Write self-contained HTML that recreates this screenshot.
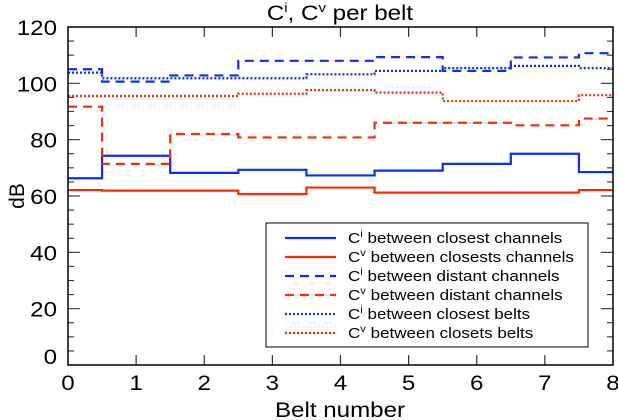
<!DOCTYPE html>
<html><head><meta charset="utf-8"><style>
body{margin:0;background:#fff;}
svg{display:block;font-family:"Liberation Sans",Arial,sans-serif;}
</style></head><body>
<svg id="chart" width="618" height="420" viewBox="0 0 618 420">
<rect x="0" y="0" width="618" height="420" fill="#fff"/>
<g id="ticks"></g>
<g id="series"></g>
<rect x="68" y="27" width="545" height="338" fill="none" stroke="#000" stroke-width="1.5"/>
<text transform="translate(340,20) scale(1.15,1)" font-size="21" text-anchor="middle">C<tspan font-size="13" dy="-8">i</tspan><tspan dy="8">, C</tspan><tspan font-size="13" dy="-8">v</tspan><tspan dy="8"> per belt</tspan></text>
<text transform="translate(340,417) scale(1.15,1)" font-size="21" text-anchor="middle">Belt number</text>
<text transform="translate(24,196) rotate(-90)" font-size="21" text-anchor="middle">dB</text>
<g id="legend">
<rect x="266" y="223" width="322" height="124" fill="#fff" stroke="#000" stroke-width="1"/>
</g>
</svg>
<script>
const xEdges = [0, 0.5, 1.5, 2.5, 3.5, 4.5, 5.5, 6.5, 7.5, 8];
const ciClosestChannels = [66.3, 74.3, 68.2, 69.3, 67.3, 69.0, 71.4, 75.0, 68.5];
const cvClosestChannels = [62.1, 61.9, 61.9, 60.7, 63.0, 61.2, 61.2, 61.2, 62.1];
const ciDistantChannels = [105.0, 100.6, 102.8, 108.0, 108.0, 109.3, 104.4, 109.2, 110.7];
const cvDistantChannels = [91.7, 71.4, 82.0, 80.8, 80.8, 86.0, 86.0, 85.1, 87.5];
const ciClosestBelts = [103.8, 101.8, 101.8, 101.8, 103.2, 104.4, 105.4, 106.2, 105.4];
const cvClosestBelts = [95.5, 95.5, 95.5, 96.3, 97.6, 96.7, 93.7, 93.7, 95.8];
const xTicks = [0, 1, 2, 3, 4, 5, 6, 7, 8];
const yTicks = [0, 20, 40, 60, 80, 100, 120];
const seriesNames = ["Ci between closest channels","Cv between closests channels","Ci between distant channels","Cv between distant channels","Ci between closest belts","Cv between closets belts"];

const NS = "http://www.w3.org/2000/svg";
const X0 = 68, X1 = 613, Y0 = 365, Y1 = 27;
function xs(v){ return X0 + v * (X1 - X0) / 8; }
function ys(v){ return Y0 - v * (Y0 - Y1) / 120; }
function mk(tag, attrs, parent){ const e = document.createElementNS(NS, tag); for (const k in attrs) e.setAttribute(k, attrs[k]); parent.appendChild(e); return e; }

const ticks = document.getElementById("ticks");
xTicks.forEach(t => {
  const x = xs(t);
  if (t > 0 && t < 8) {
    const a = mk("line", {x1:x, y1:Y0, x2:x, y2:Y0-10, stroke:"#333", "stroke-width":1.2}, ticks);
    
    
    const b = mk("line", {x1:x, y1:Y1, x2:x, y2:Y1+10, stroke:"#333", "stroke-width":1.2}, ticks);
    
    
  }
  const l = mk("text", {transform:"translate(" + x + ",390) scale(1.15,1)", "font-size":21, "text-anchor":"middle"}, ticks);
  l.textContent = String(t);
  
  
});
for (let v = 5; v < 120; v += 5) {
  const y = ys(v); const major = v % 20 === 0; const len = major ? 12 : 6;
  const a = mk("line", {x1:X0, y1:y, x2:X0+len, y2:y, stroke:"#333", "stroke-width":1.1}, ticks);
  
  
  const b = mk("line", {x1:X1, y1:y, x2:X1-len, y2:y, stroke:"#333", "stroke-width":1.1}, ticks);
  
  
}
yTicks.forEach(t => {
  const yy = (t===0 ? ys(t)-1 : ys(t)+8);
  const l = mk("text", {transform:"translate(57," + yy + ") scale(1.15,1)", "font-size":21, "text-anchor":"end"}, ticks);
  l.textContent = String(t);
  
  
});

const styles = [
  {vals:ciClosestChannels, color:"#0a2cff", dash:"", name:"ci-closest-channels"},
  {vals:cvClosestChannels, color:"#ff2a00", dash:"", name:"cv-closest-channels"},
  {vals:ciDistantChannels, color:"#0a2cff", dash:"9,6", name:"ci-distant-channels"},
  {vals:cvDistantChannels, color:"#ff2a00", dash:"9,6", name:"cv-distant-channels"},
  {vals:ciClosestBelts, color:"#0a2cff", dash:"2,2", name:"ci-closest-belts"},
  {vals:cvClosestBelts, color:"#ff2a00", dash:"2,2", name:"cv-closest-belts"}
];
const series = document.getElementById("series");
styles.forEach(s => {
  let d = "";
  s.vals.forEach((v, i) => {
    const y = ys(v);
    d += (i === 0 ? "M" + xs(xEdges[0]) + "," + y : "V" + y) + " H" + xs(xEdges[i+1]) + " ";
  });
  const p = mk("path", {d:d, fill:"none", stroke:s.color, "stroke-width":2.2, "stroke-dasharray":s.dash}, series);
  
  
});

const legend = document.getElementById("legend");
styles.forEach((s, i) => {
  const y = 238 + i * 19;
  const ln = mk("line", {x1:285, y1:y, x2:336, y2:y, stroke:s.color, "stroke-width":2.2, "stroke-dasharray":s.dash}, legend);
  
  
  const tx = mk("text", {transform:"translate(348," + (y+5) + ") scale(1.12,1)", "font-size":15.2}, legend);
  
  
  const nm = seriesNames[i];
  tx.appendChild(document.createTextNode("C"));
  const sup = mk("tspan", {"font-size":10, dy:-6}, tx);
  sup.textContent = nm.charAt(1);
  const rest = mk("tspan", {dy:6}, tx);
  rest.textContent = nm.slice(2);
});
</script>
</body></html>
